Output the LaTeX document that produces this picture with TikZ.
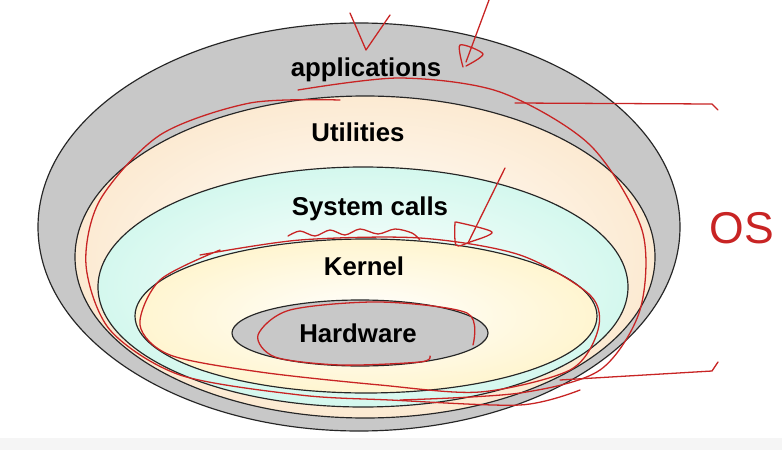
\documentclass[tikz,border=0pt]{standalone}
\usepackage{fontspec}
\setmainfont{Liberation Sans}
\definecolor{ringgray}{RGB}{200,200,200}
\definecolor{utilorange}{RGB}{252,234,210}
\definecolor{callcyan}{RGB}{212,248,238}
\definecolor{kernyellow}{RGB}{255,245,208}
\definecolor{penred}{RGB}{200,36,36}
\begin{document}
\begin{tikzpicture}[x=0.03cm, y=-0.03cm,
    ring/.style={draw=black!85, line width=1pt},
    lbl/.style={font=\fontsize{22}{26}\selectfont\bfseries},
    pen/.style={draw=penred, line width=1.1pt, line cap=round, line join=round}]
    \useasboundingbox (0,0) rectangle (782,450);
    \fill[white] (0,0) rectangle (782,450);
    \fill[black!4] (0,438) rectangle (782,450);
    % layers, outside in
    \draw[ring, fill=ringgray] (359,227) ellipse [x radius=321, y radius=204];
    \draw[ring, inner color=white, outer color=utilorange] (365,257) ellipse [x radius=290, y radius=161];
    \draw[ring, inner color=white, outer color=callcyan] (363,287) ellipse [x radius=265, y radius=120];
    \draw[ring, inner color=white, outer color=kernyellow] (366,316) ellipse [x radius=231, y radius=77];
    \draw[ring, fill=ringgray] (360,333) ellipse [x radius=128, y radius=33];
    \node[lbl] (apps) at (366,70) {applications};
    \node[lbl] (util) at (358,132) {Utilities};
    \node[lbl] (calls) at (370,209) {System calls};
    \node[lbl] (kern) at (364,266) {Kernel};
    \node[lbl] (hw) at (358,333) {Hardware};
    % red pen notes
    \draw[pen] (350,13) -- (366,50) -- (390,15);
    \draw[pen] (489,0) -- (466,62);
    \draw[pen] plot[smooth] coordinates {(463,67) (460,45) (483,54) (466,66)};
    \draw[pen] (505,168) -- (468,243);
    \draw[pen] plot[smooth] coordinates {(455,222) (456,245) (470,242) (492,232) (456,222)};
    \draw[pen] plot[smooth] coordinates {(288,236) (300,231) (315,236) (330,230) (345,235) (360,229) (378,234) (395,229) (412,233) (420,240)};
    \draw[pen] plot[smooth] coordinates {(298,90) (400,78) (500,92) (590,145) (642,230) (640,310) (600,370) (520,393) (400,400)};
    \draw[pen] plot[smooth] coordinates {(340,100) (250,103) (160,135) (100,200) (86,265) (110,330) (180,375) (300,395) (390,400) (520,405) (580,390)};
    \draw[pen] plot[smooth] coordinates {(200,255) (300,240) (420,238) (520,255) (590,295) (598,330) (570,370) (480,392) (380,385) (260,372) (170,355) (140,325) (160,280) (220,250)};
    \draw[pen] plot[smooth] coordinates {(473,345) (467,313) (380,302) (290,310) (258,335) (275,357) (340,365) (420,362) (430,356)};
    \draw[pen] (515,103) -- (712,104) -- (718,110);
    \draw[pen] (560,380) -- (712,371) -- (718,362);
    \node[text=penred, font=\fontsize{38}{42}\selectfont] (os) at (742,228) {OS};
\end{tikzpicture}
\end{document}
